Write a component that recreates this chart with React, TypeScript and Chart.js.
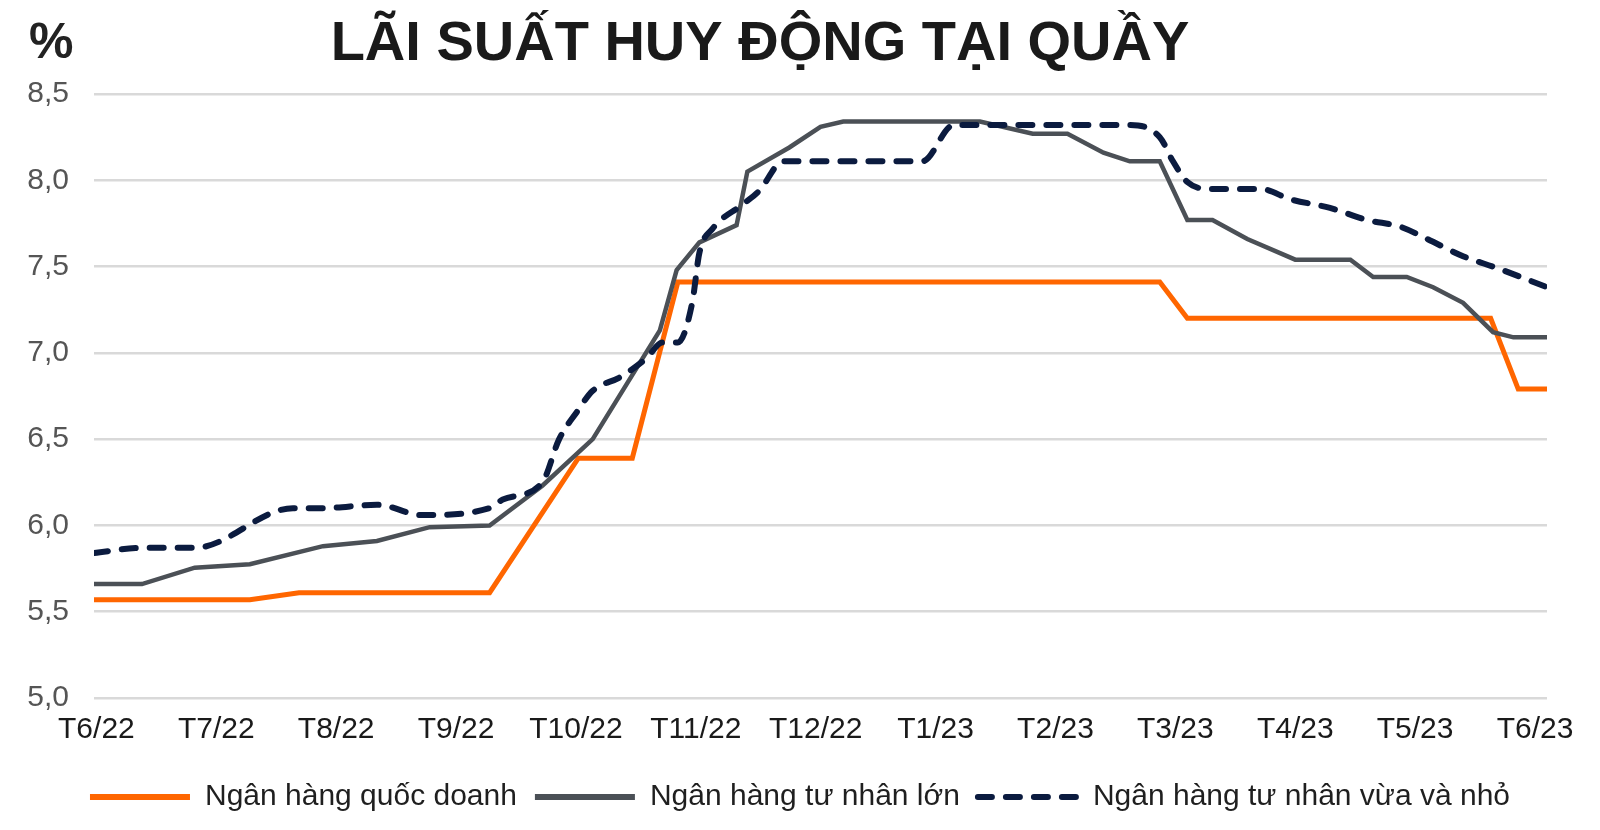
import React, { useEffect, useRef } from "react";
import { Chart, registerables } from "chart.js";

Chart.register(...registerables);

const TITLE = "LÃI SUẤT HUY ĐỘNG TẠI QUẦY";
const UNIT = "%";

// x axis tick labels (months), tick i sits at x = i
const monthLabels = [
  "T6/22", "T7/22", "T8/22", "T9/22", "T10/22", "T11/22", "T12/22",
  "T1/23", "T2/23", "T3/23", "T4/23", "T5/23", "T6/23",
];
const yTicks = [5.0, 5.5, 6.0, 6.5, 7.0, 7.5, 8.0, 8.5];

const seriesNames = [
  "Ngân hàng quốc doanh",
  "Ngân hàng tư nhân lớn",
  "Ngân hàng tư nhân vừa và nhỏ",
];

// Ngân hàng quốc doanh (x in months since T6/22)
const stateX = [-0.02, 1.28, 1.69, 3.28, 4.02, 4.47, 4.85, 8.87, 9.1, 11.63, 11.86, 12.1];
const stateY = [5.57, 5.57, 5.61, 5.61, 6.39, 6.39, 7.41, 7.41, 7.2, 7.2, 6.79, 6.79];

// Ngân hàng tư nhân lớn
const largeX = [
  -0.02, 0.38, 0.82, 1.28, 1.89, 2.34, 2.78, 3.28, 3.72, 4.14, 4.7, 4.84, 5.03, 5.34,
  5.43, 5.78, 6.04, 6.23, 7.37, 7.81, 8.1, 8.4, 8.62, 8.87, 9.1, 9.31, 9.6, 10.0,
  10.46, 10.65, 10.93, 11.15, 11.4, 11.65, 11.82, 12.1,
];
const largeY = [
  5.66, 5.66, 5.755, 5.775, 5.88, 5.91, 5.99, 6.0, 6.23, 6.5, 7.13, 7.48, 7.64, 7.74,
  8.05, 8.19, 8.31, 8.34, 8.34, 8.27, 8.27, 8.16, 8.11, 8.11, 7.77, 7.77, 7.66, 7.54,
  7.54, 7.44, 7.44, 7.38, 7.29, 7.12, 7.09, 7.09,
];

// Ngân hàng tư nhân vừa và nhỏ
const smallX = [
  -0.02, 0.38, 0.82, 1.64, 1.89, 2.34, 2.72, 3.28, 3.39, 3.72, 3.86, 4.01, 4.14, 4.37,
  4.59, 4.72, 4.85, 4.97, 5.03, 5.14, 5.39, 5.53, 5.73, 6.89, 7.15, 8.62, 8.87, 8.98,
  9.1, 9.29, 9.71, 9.96, 10.29, 10.6, 10.88, 11.1, 11.4, 11.69, 12.1,
];
const smallY = [
  5.84, 5.87, 5.87, 6.1, 6.1, 6.12, 6.06, 6.1, 6.15, 6.25, 6.5, 6.66, 6.78, 6.86,
  6.97, 7.06, 7.06, 7.29, 7.58, 7.72, 7.86, 7.94, 8.11, 8.11, 8.32, 8.32, 8.25, 8.11,
  7.99, 7.95, 7.95, 7.89, 7.84, 7.77, 7.73, 7.66, 7.56, 7.49, 7.38,
];

const toPoints = (xs: number[], ys: number[]) => xs.map((x, i) => ({ x, y: ys[i] }));

const FONT = '"Liberation Sans", Arial, sans-serif';

const titlePlugin = {
  id: "customTitle",
  afterDraw(chart: any) {
    const { ctx } = chart;
    ctx.save();
    ctx.fillStyle = "#1a1a1a";
    ctx.font = `bold 56px ${FONT}`;
    ctx.textAlign = "center";
    ctx.textBaseline = "middle";
    ctx.fillText(TITLE, 760, 45);
    ctx.font = `bold 50px ${FONT}`;
    ctx.textAlign = "left";
    ctx.fillStyle = "#222";
    ctx.fillText(UNIT, 29, 44);
    ctx.restore();
  },
};

export default function App() {
  const ref = useRef<HTMLCanvasElement | null>(null);

  useEffect(() => {
    if (!ref.current) return;
    const chart = new Chart(ref.current, {
      type: "line",
      data: {
        datasets: [
          {
            label: seriesNames[0],
            data: toPoints(stateX, stateY),
            borderColor: "#ff6600",
            backgroundColor: "#ff6600",
            borderWidth: 5,
            pointRadius: 0,
            tension: 0,
            order: 2,
          },
          {
            label: seriesNames[1],
            data: toPoints(largeX, largeY),
            borderColor: "#4b5056",
            backgroundColor: "#4b5056",
            borderWidth: 4.5,
            pointRadius: 0,
            tension: 0,
            order: 1,
          },
          {
            label: seriesNames[2],
            data: toPoints(smallX, smallY),
            borderColor: "#0b1b3f",
            backgroundColor: "#0b1b3f",
            borderWidth: 6,
            borderDash: [14, 14],
            borderCapStyle: "round",
            pointRadius: 0,
            cubicInterpolationMode: "monotone",
            order: 0,
          },
        ],
      },
      options: {
        animation: false,
        responsive: false,
        layout: { padding: { left: 0, right: 0, top: 94, bottom: 8 } },
        plugins: {
          title: { display: false },
          tooltip: { enabled: false },
          legend: {
            position: "bottom",
            labels: {
              usePointStyle: true,
              pointStyle: "line",
              pointStyleWidth: 100,
              padding: 18,
              color: "#1f1f1f",
              font: { family: FONT, size: 30 },
              sort: (a: any, b: any) => a.datasetIndex - b.datasetIndex,
              generateLabels: (c: any) => {
                const items = Chart.defaults.plugins.legend.labels.generateLabels(c);
                items.forEach((it: any) => {
                  const ds: any = c.data.datasets[it.datasetIndex];
                  it.lineDash = ds.borderDash || [];
                  it.lineWidth = 6;
                  it.strokeStyle = ds.borderColor;
                  it.fillStyle = ds.borderColor;
                  it.lineCap = ds.borderDash ? "round" : "butt";
                });
                return items;
              },
            },
          },
        },
        scales: {
          x: {
            type: "linear",
            min: -0.02,
            max: 12.1,
            afterBuildTicks: (scale: any) => {
              scale.ticks = monthLabels.map((_, i) => ({ value: i }));
            },
            afterFit: (scale: any) => {
              scale.height = 66;
            },
            ticks: {
              autoSkip: false,
              maxRotation: 0,
              padding: 14,
              color: "#1a1a1a",
              font: { family: FONT, size: 30 },
              callback: (_v: any, i: number) => monthLabels[i],
            },
            grid: { display: false, drawTicks: false },
            border: { display: false },
          },
          y: {
            min: 5,
            max: 8.5,
            afterBuildTicks: (scale: any) => {
              scale.ticks = yTicks.map((v) => ({ value: v }));
            },
            afterFit: (scale: any) => {
              scale.width = 94;
            },
            ticks: {
              padding: 25,
              color: "#555555",
              font: { family: FONT, size: 30 },
              callback: (v: any) => Number(v).toFixed(1).replace(".", ","),
            },
            grid: { color: "#d9d9d9", lineWidth: 2.5, drawTicks: false },
            border: { display: false },
          },
          yRight: {
            position: "right",
            min: 5,
            max: 8.5,
            afterFit: (scale: any) => {
              scale.width = 53;
            },
            ticks: { display: false },
            grid: { display: false, drawTicks: false },
            border: { display: false },
          },
        },
      },
      plugins: [titlePlugin],
    });
    return () => chart.destroy();
  }, []);

  return (
    <div style={{ position: "absolute", left: 0, top: 0, width: 1600, height: 830, background: "#fff" }}>
      <canvas ref={ref} width={1600} height={830} />
    </div>
  );
}
